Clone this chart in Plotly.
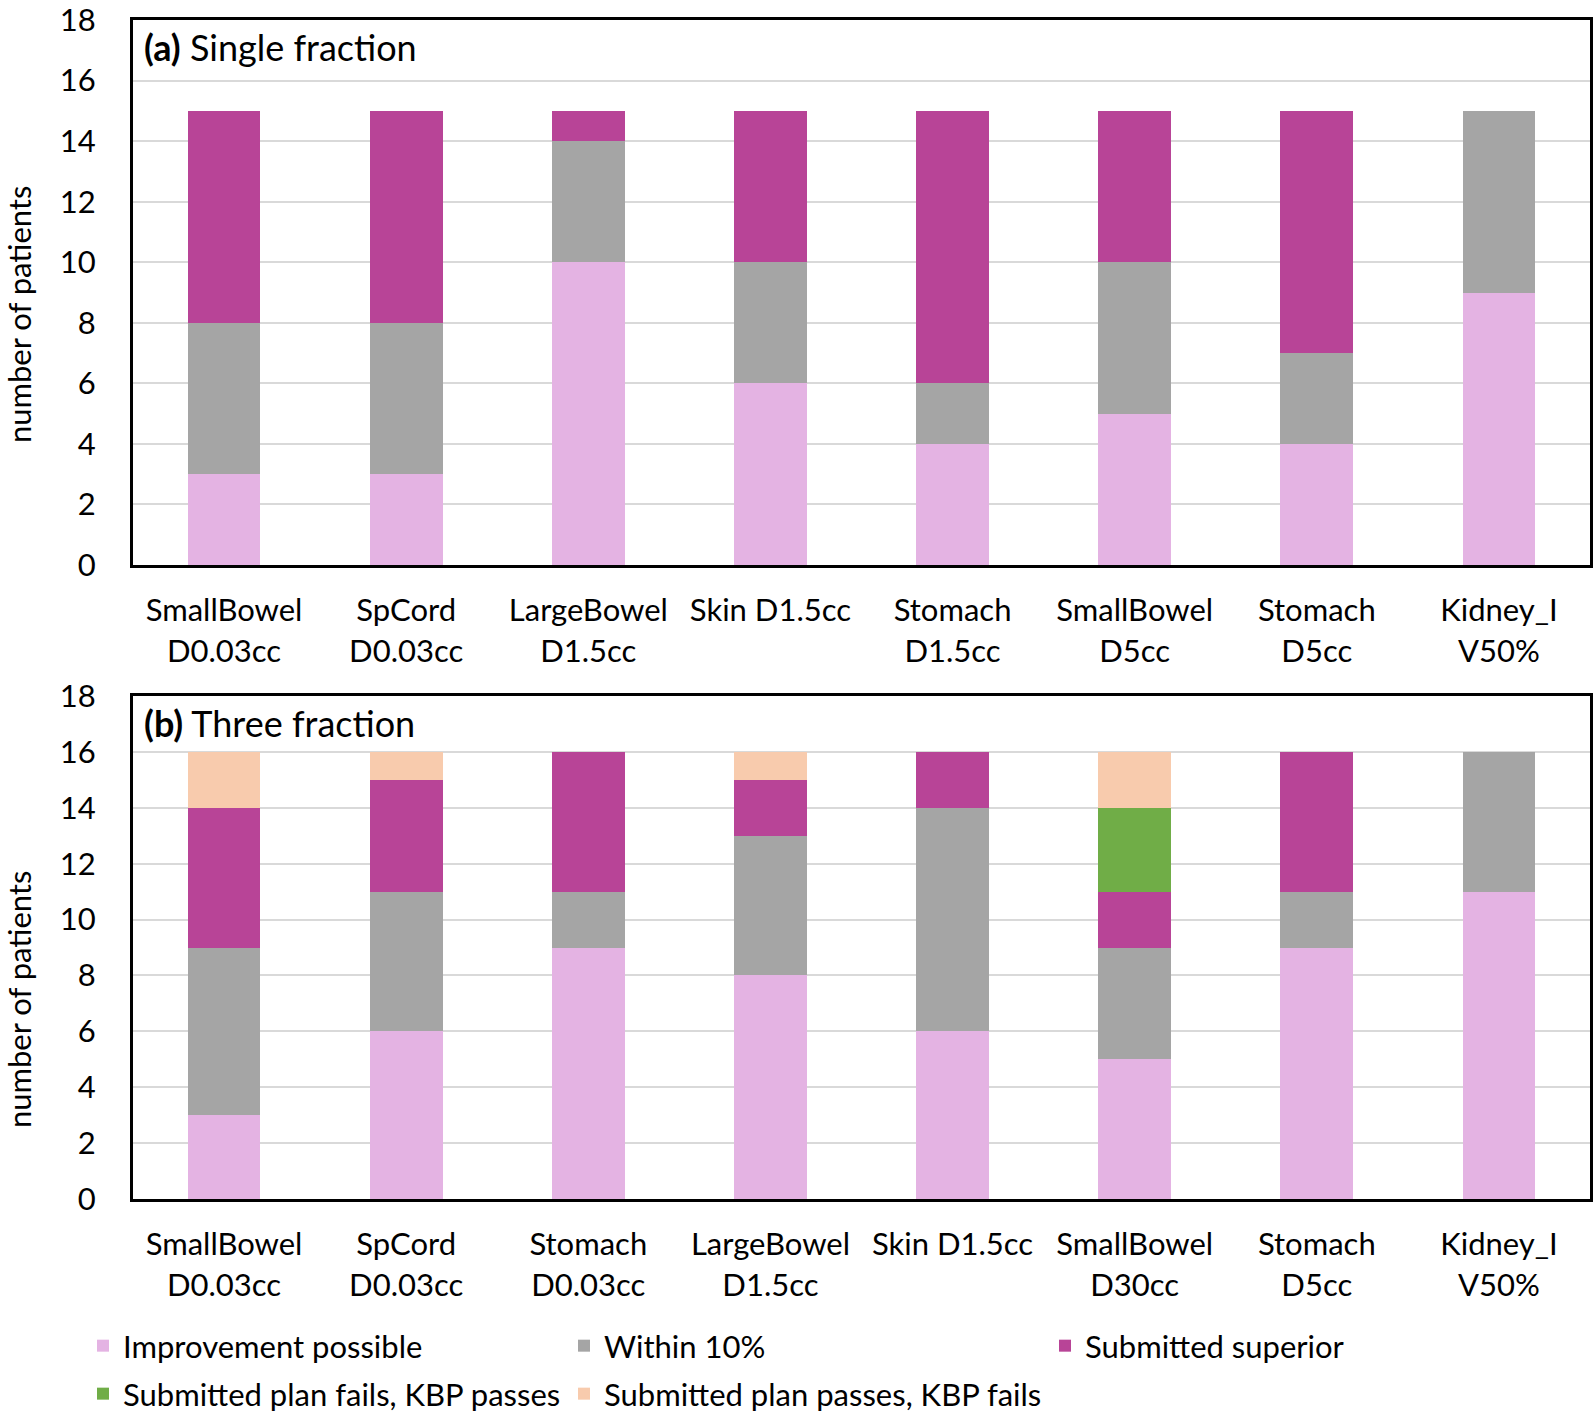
import plotly.graph_objects as go
from plotly.subplots import make_subplots

cats_a = ["SmallBowel<br>D0.03cc", "SpCord<br>D0.03cc", "LargeBowel<br>D1.5cc", "Skin D1.5cc<br> ",
          "Stomach<br>D1.5cc", "SmallBowel<br>D5cc", "Stomach<br>D5cc", "Kidney_I<br>V50%"]
improve_a = [3, 3, 10, 6, 4, 5, 4, 9]
within_a = [5, 5, 4, 4, 2, 5, 3, 6]
superior_a = [7, 7, 1, 5, 9, 5, 8, 0]

cats_b = ["SmallBowel<br>D0.03cc", "SpCord<br>D0.03cc", "Stomach<br>D0.03cc", "LargeBowel<br>D1.5cc",
          "Skin D1.5cc<br> ", "SmallBowel<br>D30cc", "Stomach<br>D5cc", "Kidney_I<br>V50%"]
improve_b = [3, 6, 9, 8, 6, 5, 9, 11]
within_b = [6, 5, 2, 5, 8, 4, 2, 5]
superior_b = [5, 4, 5, 2, 2, 2, 5, 0]
subfails_b = [0, 0, 0, 0, 0, 3, 0, 0]
kbpfails_b = [2, 1, 0, 1, 0, 2, 0, 0]

names = ["Improvement possible", "Within 10%", "Submitted superior",
         "Submitted plan fails, KBP passes", "Submitted plan passes, KBP fails"]
colors = ["#E4B3E3", "#A5A5A5", "#B84497", "#70AD47", "#F8CBAD"]
legend_ids = ["legend", "legend", "legend", "legend2", "legend2"]

FONT = "Lato, Open Sans, sans-serif"

fig = make_subplots(rows=2, cols=1, vertical_spacing=0.11)

for vals, nm, col in zip([improve_a, within_a, superior_a], names[:3], colors[:3]):
    fig.add_trace(go.Bar(x=cats_a, y=vals, name=nm, marker=dict(color=col, line=dict(width=0)),
                         width=0.4, showlegend=False, legendgroup=nm), row=1, col=1)
for vals, nm, col, lg in zip([improve_b, within_b, superior_b, subfails_b, kbpfails_b], names, colors, legend_ids):
    fig.add_trace(go.Bar(x=cats_b, y=vals, name=nm, marker=dict(color=col, line=dict(width=0)),
                         width=0.4, showlegend=True, legendgroup=nm, legend=lg), row=2, col=1)

leg_common = dict(orientation="h", xanchor="left", yanchor="middle",
                  entrywidth=436, entrywidthmode="pixels", itemwidth=30,
                  font=dict(size=31, family=FONT), traceorder="normal", bgcolor="rgba(0,0,0,0)")

fig.update_layout(
    barmode="stack",
    width=1593, height=1418,
    margin=dict(l=133, r=3, t=20, b=219, autoexpand=False),
    plot_bgcolor="white", paper_bgcolor="white",
    font=dict(family=FONT, size=26, color="#000"),
    legend=dict(x=-0.0343, y=-0.1247, **leg_common),
    legend2=dict(x=-0.0343, y=-0.1654, **leg_common),
)
fig.update_layout(yaxis=dict(domain=[0.5377, 1.0]), yaxis2=dict(domain=[0.0, 0.4266]))

fig.update_yaxes(range=[0, 18], dtick=2, showgrid=True, gridcolor="#D9D9D9", gridwidth=2,
                 showline=True, linecolor="black", linewidth=3, mirror=True, zeroline=False,
                 ticks="", ticklabelstandoff=28, tickfont=dict(size=31), automargin=False,
                 ticklabeloverflow="allow")
fig.update_xaxes(showline=True, linecolor="black", linewidth=3, mirror=True, ticks="",
                 tickfont=dict(size=31), ticklabelstandoff=16, tickangle=0, automargin=False)

fig.add_annotation(xref="paper", yref="paper", x=-0.0782, y=0.7506, xanchor="center", yanchor="middle",
                   text="number of patients", textangle=-90, showarrow=False, font=dict(size=31, family=FONT))
fig.add_annotation(xref="paper", yref="paper", x=-0.0782, y=0.1696, xanchor="center", yanchor="middle",
                   text="number of patients", textangle=-90, showarrow=False, font=dict(size=31, family=FONT))

fig.add_annotation(xref="x domain", yref="y domain", x=0.006, y=0.995, xanchor="left", yanchor="top",
                   text="<b>(a)</b> Single fraction", showarrow=False, font=dict(size=36, family=FONT))
fig.add_annotation(xref="x2 domain", yref="y2 domain", x=0.006, y=0.995, xanchor="left", yanchor="top",
                   text="<b>(b)</b> Three fraction", showarrow=False, font=dict(size=36, family=FONT))

fig.write_html("out.html", config={"displayModeBar": False},
               post_script="document.body.style.margin='0';")
